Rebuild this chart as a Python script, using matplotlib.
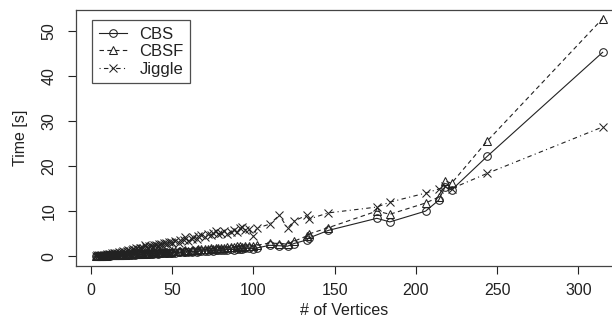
import matplotlib
matplotlib.use("Agg")
import matplotlib.pyplot as plt

plt.rcParams['font.family'] = ['Liberation Sans', 'DejaVu Sans']

vertices = [3, 4, 5, 6, 7, 8, 9, 10, 11, 12, 13, 14, 15, 16, 17, 18, 19, 20,
            21, 22, 23, 24, 25, 26, 27, 28, 29, 30, 31, 32, 33, 34, 35, 36, 37,
            38, 39, 40, 41, 42, 43, 44, 45, 46, 47, 48, 49, 50, 52, 54, 55, 57,
            58, 60, 62, 63, 65, 66, 68, 70, 72, 74, 75, 77, 78, 80, 82, 84, 86,
            88, 90, 92, 93, 95, 97, 100, 102, 110, 116, 121, 125, 133, 134, 146,
            176, 184, 206, 214, 218, 222, 244, 315]

cbs = [0.05, 0.06, 0.08, 0.07, 0.1, 0.12, 0.1, 0.14, 0.15, 0.13, 0.18, 0.2,
       0.17, 0.22, 0.24, 0.2, 0.26, 0.28, 0.25, 0.3, 0.32, 0.29, 0.35, 0.36,
       0.33, 0.4, 0.38, 0.42, 0.45, 0.41, 0.48, 0.5, 0.46, 0.52, 0.55, 0.5,
       0.58, 0.6, 0.56, 0.62, 0.65, 0.6, 0.68, 0.7, 0.66, 0.74, 0.72, 0.78,
       0.8, 0.85, 0.82, 0.9, 0.95, 0.92, 1.0, 1.05, 1.0, 1.1, 1.15, 1.1, 1.2,
       1.25, 1.2, 1.3, 1.35, 1.3, 1.4, 1.45, 1.5, 1.45, 1.6, 1.65, 1.55, 1.7,
       1.75, 1.6, 1.8, 2.4, 2.3, 2.2, 2.8, 3.6, 4.0, 5.7, 8.4, 7.6, 10.0, 12.4,
       15.4, 14.7, 22.2, 45.3]

cbsf = [0.07, 0.08, 0.1, 0.09, 0.13, 0.15, 0.13, 0.18, 0.2, 0.17, 0.24, 0.26,
        0.22, 0.29, 0.31, 0.27, 0.34, 0.37, 0.33, 0.4, 0.42, 0.38, 0.46, 0.48,
        0.44, 0.53, 0.5, 0.56, 0.6, 0.55, 0.64, 0.67, 0.62, 0.7, 0.74, 0.68,
        0.78, 0.8, 0.75, 0.84, 0.88, 0.82, 0.92, 0.95, 0.9, 1.0, 0.98, 1.05,
        1.08, 1.15, 1.1, 1.22, 1.28, 1.24, 1.35, 1.42, 1.36, 1.5, 1.56, 1.5,
        1.62, 1.7, 1.64, 1.76, 1.82, 1.78, 1.9, 1.96, 2.0, 1.95, 2.15, 2.2, 2.1,
        2.3, 2.35, 2.2, 2.4, 2.9, 2.8, 2.7, 3.3, 4.5, 4.9, 6.3, 10.0, 9.3, 11.8,
        13.1, 16.7, 16.2, 25.6, 52.8]

jiggle = [0.1, 0.15, 0.2, 0.18, 0.3, 0.35, 0.3, 0.45, 0.5, 0.4, 0.6, 0.7, 0.6,
          0.8, 0.9, 0.75, 1.0, 1.1, 0.95, 1.2, 1.3, 1.1, 1.4, 1.5, 1.3, 1.7,
          1.6, 1.8, 1.9, 1.7, 2.4, 2.0, 1.9, 2.2, 2.3, 2.0, 2.5, 2.4, 2.2, 2.6,
          2.8, 2.5, 2.9, 3.0, 2.7, 3.1, 3.2, 2.9, 3.3, 3.0, 3.5, 3.6, 4.2, 3.4,
          3.9, 4.2, 3.8, 4.5, 4.8, 4.3, 5.0, 4.6, 5.2, 5.5, 4.9, 5.1, 5.6, 5.0,
          5.3, 5.8, 5.4, 6.2, 6.4, 5.9, 6.1, 4.4, 6.2, 7.1, 9.1, 6.2, 7.8, 9.1,
          8.2, 9.6, 10.9, 12.0, 14.0, 14.9, 15.5, 15.0, 18.4, 28.7]

xticks = [0, 50, 100, 150, 200, 250, 300]
yticks = [0, 10, 20, 30, 40, 50]

fig = plt.figure(figsize=(6.12, 3.2), dpi=100)
ax = fig.add_axes([76/612, 54/320, 1 - 76/612 + 0.002, 256/320])

col = '#222222'
mk = dict(markersize=5.5, markerfacecolor='none', markeredgewidth=0.75,
          color=col, linewidth=0.8)
ax.plot(vertices, cbs, marker='o', linestyle='-', label='CBS', **mk)
ax.plot(vertices, cbsf, marker='^', linestyle=(0, (4, 3)), label='CBSF', **mk)
ax.plot(vertices, jiggle, marker='x', linestyle=(0, (1, 3, 4, 3)),
        label='Jiggle', **mk)

ax.set_xlim(-9.2, 321.5)
ax.set_ylim(-2.2, 54.7)
ax.set_xticks(xticks)
ax.set_yticks(yticks)
ax.tick_params(axis='x', direction='out', length=6, width=0.8,
               labelsize=11.5, colors=col, pad=6)
ax.tick_params(axis='y', direction='out', length=6, width=0.8,
               labelsize=11.5, colors=col, pad=8)
for lab in ax.get_yticklabels():
    lab.set_rotation(90)
    lab.set_va('center')
for s in ['left', 'bottom', 'top']:
    ax.spines[s].set_linewidth(0.9)
    ax.spines[s].set_color('#444444')
ax.spines['right'].set_visible(False)

ax.set_xlabel('# of Vertices', fontsize=11.5, color=col, labelpad=3.5)
ax.set_ylabel('Time [s]', fontsize=11.5, color=col, labelpad=10)

leg = ax.legend(loc='upper left', bbox_to_anchor=(16/536, 1 - 10/256),
                fontsize=12, frameon=True, fancybox=False, borderpad=0.4,
                handlelength=1.7, handletextpad=0.75, labelspacing=0.15,
                borderaxespad=0)
leg.get_frame().set_edgecolor(col)
leg.get_frame().set_linewidth(0.9)
for t in leg.get_texts():
    t.set_color(col)

fig.savefig('out.png', dpi=100)
